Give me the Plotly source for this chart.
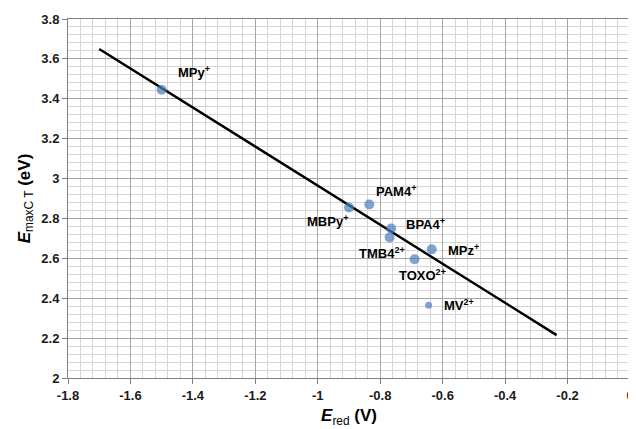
import plotly.graph_objects as go

# Data
names = ["MPy<sup>+</sup>", "MBPy<sup>+</sup>", "PAM4<sup>+</sup>", "BPA4<sup>+</sup>",
         "TMB4<sup>2+</sup>", "MPz<sup>+</sup>", "TOXO<sup>2+</sup>", "MV<sup>2+</sup>"]
e_red = [-1.50, -0.90, -0.835, -0.765, -0.77, -0.635, -0.69, -0.645]
e_ct = [3.445, 2.855, 2.87, 2.75, 2.705, 2.645, 2.595, 2.365]

fit_x = [-1.70, -0.235]
fit_y = [3.65, 2.215]

x_ticks = [-1.8, -1.6, -1.4, -1.2, -1.0, -0.8, -0.6, -0.4, -0.2, 0.0]
x_ticktext = ["-1.8", "-1.6", "-1.4", "-1.2", "-1", "-0.8", "-0.6", "-0.4", "-0.2", "0"]
y_ticks = [2.0, 2.2, 2.4, 2.6, 2.8, 3.0, 3.2, 3.4, 3.6, 3.8]
y_ticktext = ["2", "2.2", "2.4", "2.6", "2.8", "3", "3.2", "3.4", "3.6", "3.8"]

# Styles
marker_sizes = [10, 10, 10, 10, 10, 10, 10, 7]
# label pixel offsets (dx, dy) and anchors
label_style = [
    (14, 18, "left"),    # MPy+
    (1, -14, "right"),   # MBPy+
    (5, 13, "left"),     # PAM4+
    (13, 4, "left"),     # BPA4+
    (17, -16, "right"),  # TMB4 2+
    (14, -1, "left"),    # MPz+
    (-18, -16, "left"),  # TOXO 2+
    (13, 0, "left"),     # MV 2+
]

FONT = "Liberation Sans"
BLUE = "#4a7ebb"

fig = go.Figure()
fig.add_trace(go.Scatter(x=fit_x, y=fit_y, mode="lines",
                         line=dict(color="black", width=2.4), hoverinfo="skip",
                         showlegend=False))
fig.add_trace(go.Scatter(x=e_red, y=e_ct, mode="markers",
                         marker=dict(color=BLUE, size=marker_sizes, line=dict(width=0)),
                         showlegend=False))

for name, xv, yv, (dx, dy, anc) in zip(names, e_red, e_ct, label_style):
    fig.add_annotation(x=xv, y=yv, xref="x", yref="y", text="<b>" + name + "</b>",
                       showarrow=False, xanchor=anc, yanchor="middle",
                       xshift=dx, yshift=dy,
                       font=dict(family=FONT, size=13, color="black"))

fig.update_layout(
    width=628, height=421,
    margin=dict(l=60, r=6, t=11, b=51),
    paper_bgcolor="white", plot_bgcolor="white",
    font=dict(family=FONT, color="black"),
)
fig.update_xaxes(
    range=[-1.8, 0], tickvals=x_ticks, ticktext=["<b>%s</b>" % t for t in x_ticktext],
    tickfont=dict(family=FONT, size=13, color="#1a1a1a"),
    ticklabeloverflow="allow", automargin=False,
    showgrid=True, gridcolor="#a6a6a6", gridwidth=1,
    minor=dict(dtick=0.04, tick0=0, showgrid=True, gridcolor="#d4d4d4", gridwidth=1),
    showline=True, linecolor="#808080", linewidth=1, mirror=True,
    ticks="outside", ticklen=5, tickcolor="#808080", zeroline=False,
    title=dict(text="<b><i>E</i></b><sub>red</sub> <b>(V)</b>",
               font=dict(family=FONT, size=17, color="black"), standoff=7),
)
fig.update_yaxes(
    range=[2, 3.8], tickvals=y_ticks, ticktext=["<b>%s</b>" % t for t in y_ticktext],
    tickfont=dict(family=FONT, size=13, color="#1a1a1a"),
    ticklabeloverflow="allow", automargin=False,
    showgrid=True, gridcolor="#a6a6a6", gridwidth=1,
    minor=dict(dtick=0.04, tick0=2, showgrid=True, gridcolor="#d4d4d4", gridwidth=1),
    showline=True, linecolor="#808080", linewidth=1, mirror=True,
    ticks="outside", ticklen=5, tickcolor="#808080", zeroline=False,
    title=dict(text="<b><i>E</i></b><sub>maxC T</sub> <b>(eV)</b>",
               font=dict(family=FONT, size=17, color="black"), standoff=6),
)

fig.write_html("out.html")
